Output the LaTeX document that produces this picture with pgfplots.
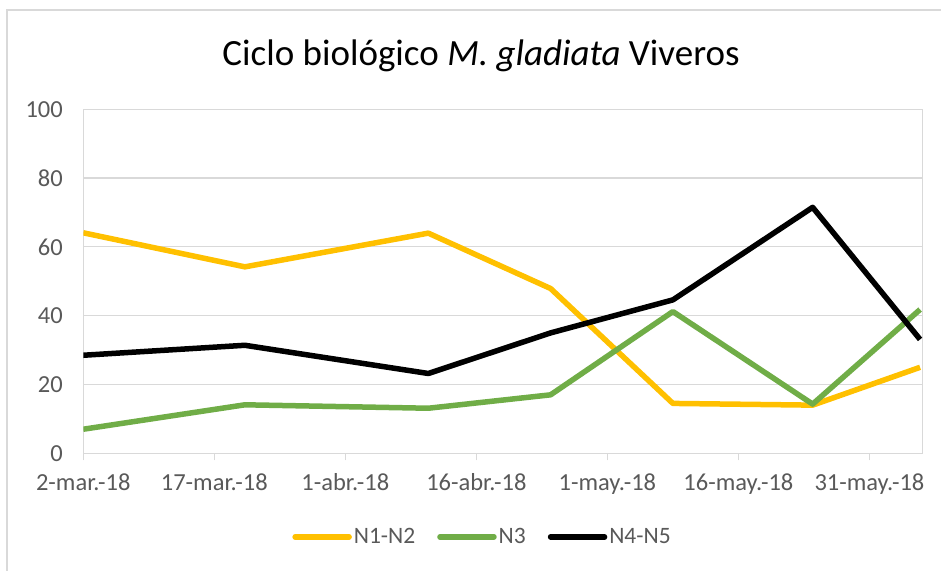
\documentclass[border=0pt]{standalone}
\usepackage{pgfplots}
\pgfplotsset{compat=1.18}
\usepackage{fontspec}
\setmainfont{Carlito}
\definecolor{txtgray}{HTML}{595959}
\definecolor{gridgray}{HTML}{D9D9D9}
\definecolor{cyellow}{HTML}{FFC000}
\definecolor{cgreen}{HTML}{70AD47}
\begin{document}
\begin{tikzpicture}[x=1pt,y=1pt]
\useasboundingbox (0,0) rectangle (941,570);
\draw[gridgray, line width=1.3pt] (7,-5) -- (7,560) -- (950,560);
\node[anchor=base, text=black, font=\fontsize{37}{44}\selectfont] at (481,504) {Ciclo biológico \textit{M. gladiata} Viveros};
\begin{axis}[
  at={(83.3pt,116.7pt)}, anchor=south west,
  scale only axis, width=839.4pt, height=344pt,
  xmin=0, xmax=96.1, ymin=0, ymax=100,
  xtick={0,15,30,45,60,75,90},
  xticklabels={2-mar.-18,17-mar.-18,1-abr.-18,16-abr.-18,1-may.-18,16-may.-18,31-may.-18},
  ytick={0,20,40,60,80,100},
  ymajorgrids, grid style={gridgray, line width=1.2pt},
  axis line style={gridgray, line width=1.2pt},
  tick align=outside, major tick length=7pt,
  xtick pos=bottom, ytick pos=left,
  x tick style={gridgray, line width=1.2pt},
  y tick style={draw=none},
  /pgf/number format/assume math mode=true,
  ticklabel style={text=txtgray, font=\fontsize{24.5}{29}\selectfont},
  yticklabel style={xshift=-10pt},
  xticklabel style={yshift=-10pt},
  legend style={at={(0.4756,-0.243)}, anchor=center, draw=none, legend columns=3,
    font=\fontsize{23.5}{28}\selectfont, text=txtgray,
    /tikz/every even column/.append style={column sep=20pt}},
  legend image code/.code={\draw[#1, line width=5.5pt, line cap=round] (0pt,0pt) -- (54pt,0pt);},
  legend cell align=left,
]
\addplot[cyellow, line width=5.5pt, line join=round] coordinates {
 (0,64.1) (18.5,54.2) (39.5,64.0) (53.5,47.9) (67.5,14.5) (83.5,14.0) (95.8,25.0)};
\addlegendentry{N1-N2}
\addplot[cgreen, line width=5.5pt, line join=round] coordinates {
 (0,7.0) (18.5,14.1) (39.5,13.1) (53.5,17.0) (67.5,41.2) (83.5,14.3) (95.8,41.8)};
\addlegendentry{N3}
\addplot[black, line width=5.5pt, line join=round] coordinates {
 (0,28.5) (18.5,31.4) (39.5,23.2) (53.5,35.0) (67.5,44.6) (83.5,71.5) (95.8,33.1)};
\addlegendentry{N4-N5}
\end{axis}
\end{tikzpicture}
\end{document}
